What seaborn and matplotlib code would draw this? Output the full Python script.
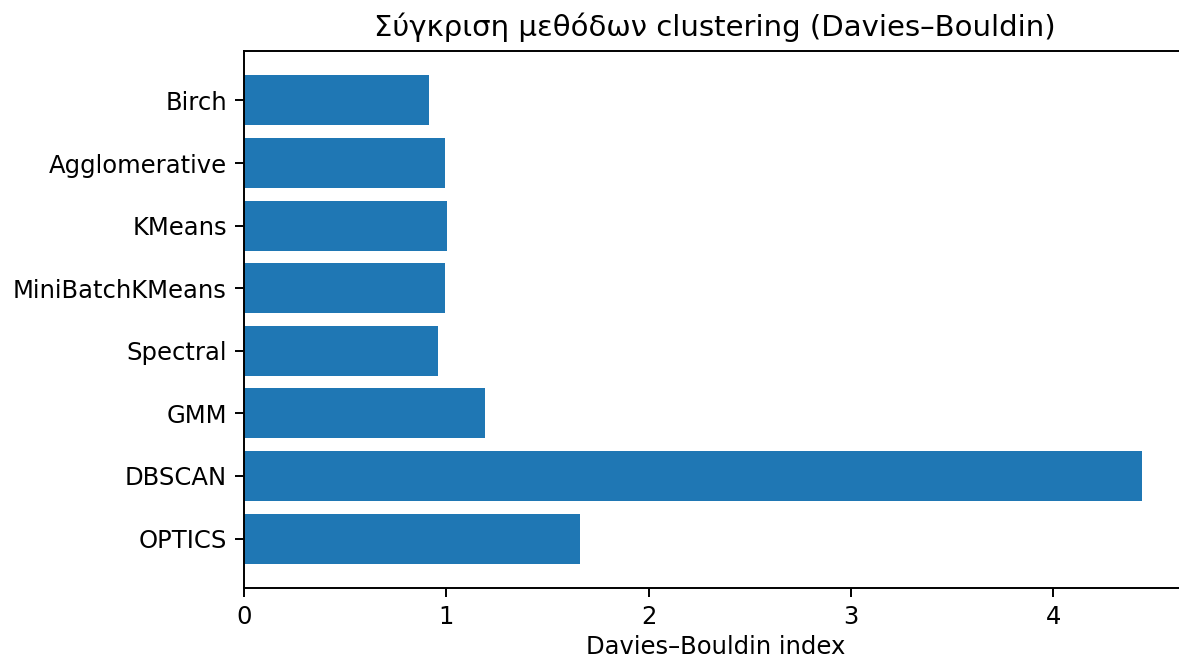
import matplotlib
matplotlib.use("Agg")
import matplotlib.pyplot as plt
import pandas as pd
import seaborn as sns

# Davies–Bouldin index per clustering method (lower is better)
methods = ["Birch", "Agglomerative", "KMeans", "MiniBatchKMeans",
           "Spectral", "GMM", "DBSCAN", "OPTICS"]
db_scores = [0.914, 0.994, 1.002, 0.994, 0.959, 1.193, 4.437, 1.661]

df = pd.DataFrame({"method": methods, "db": db_scores})

dpi = 175
fig = plt.figure(figsize=(1179 / dpi, 660 / dpi), dpi=dpi)
ax = fig.add_axes([244 / 1179, 72 / 660, 942.5 / 1179, 537 / 660])

sns.barplot(data=df, x="db", y="method", order=methods, orient="h",
            color="#1f77b4", saturation=1, width=0.8, ax=ax)

ax.set_ylim(7.79, -0.79)
ax.set_xlim(0, max(db_scores) * 1.05)
ax.set_ylabel("")
ax.set_xlabel("Davies–Bouldin index", labelpad=2.5)
ax.set_title("Σύγκριση μεθόδων clustering (Davies–Bouldin)")

fig.savefig("out.png", dpi=dpi)
